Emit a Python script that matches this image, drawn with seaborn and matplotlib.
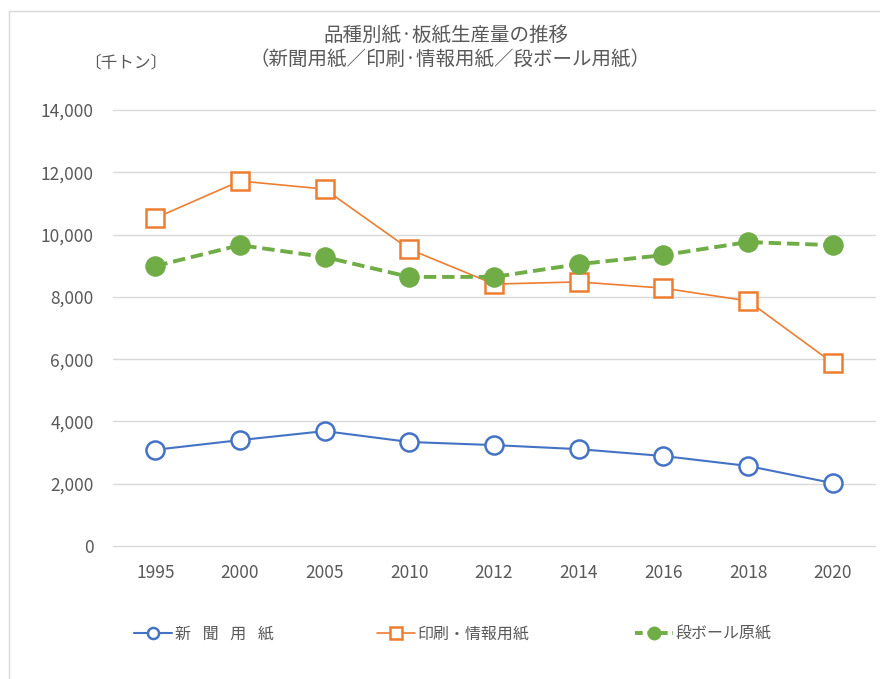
import matplotlib
matplotlib.use("Agg")
import matplotlib.pyplot as plt
import seaborn as sns
import pandas as pd
from matplotlib.lines import Line2D
from matplotlib.ticker import FuncFormatter

years = ["1995", "2000", "2005", "2010", "2012", "2014", "2016", "2018", "2020"]
newsprint = [3090, 3400, 3690, 3340, 3240, 3110, 2890, 2570, 2020]
printing = [10530, 11720, 11460, 9530, 8410, 8480, 8280, 7870, 5880]
corrugated = [8990, 9660, 9280, 8640, 8640, 9050, 9340, 9760, 9660]
series_names = ["新\u2002 聞\u2002 用\u2002 紙", "印刷・情報用紙", "段ボール原紙"]

sns.set_theme(style="white")
plt.rcParams['font.family'] = ['Noto Sans CJK JP', 'DejaVu Sans']

TXT = "#595959"
BLUE, ORANGE, GREEN = "#4472C4", "#ED7D31", "#70AD47"
fig = plt.figure(figsize=(8.8, 6.79), dpi=100)
W, H = 880, 679
ax = fig.add_axes([113 / W, 1 - 546 / H, (875 - 113) / W, (546 - 110) / H])

df = pd.DataFrame({"year": years, "news": newsprint, "print": printing, "corr": corrugated})
x = list(range(len(years)))

sns.lineplot(x=x, y=df["news"], ax=ax, color=BLUE, linewidth=1.5,
             marker="o", markersize=13, markerfacecolor="white",
             markeredgecolor=BLUE, markeredgewidth=1.8, zorder=3)
sns.lineplot(x=x, y=df["print"], ax=ax, color=ORANGE, linewidth=1.2,
             marker="s", markersize=13, markerfacecolor="white",
             markeredgecolor=ORANGE, markeredgewidth=1.8, zorder=3)
sns.lineplot(x=x, y=df["corr"], ax=ax, color=GREEN, linewidth=2.8,
             linestyle=(0, (3.2, 1.5)), marker="o", markersize=14,
             markerfacecolor=GREEN, markeredgecolor=GREEN, zorder=3)

ax.set_xlim(-0.5, len(years) - 0.5)
ax.set_ylim(0, 14000)
ax.set_yticks(range(0, 14001, 2000))
ax.yaxis.set_major_formatter(FuncFormatter(lambda v, p: f"{int(v):,}"))
ax.set_xticks(x)
ax.set_xticklabels(years)
ax.grid(axis="y", color="#D9D9D9", linewidth=1.0)
ax.grid(axis="x", visible=False)
for gl in ax.get_ygridlines():
    gl.set_clip_on(False)
for s in ax.spines.values():
    s.set_visible(False)
ax.tick_params(axis="both", length=0, colors=TXT, labelsize=12.5)
ax.tick_params(axis="y", pad=14)
ax.tick_params(axis="x", pad=13)
ax.set_xlabel("")
ax.set_ylabel("")

fig.text(446 / W, 1 - 35 / H, "品種別紙·板紙生産量の推移", ha="center", va="center",
         fontsize=14, color=TXT)
fig.text(450 / W, 1 - 59 / H, "（新聞用紙／印刷·情報用紙／段ボール用紙）", ha="center", va="center",
         fontsize=14, color=TXT)
fig.text(126 / W, 1 - 63 / H, "〔千トン〕", ha="center", va="center", fontsize=12, color=TXT)

handles = [
    Line2D([], [], color=BLUE, linewidth=1.5, marker="o", markersize=8,
           markerfacecolor="white", markeredgecolor=BLUE, markeredgewidth=1.8),
    Line2D([], [], color=ORANGE, linewidth=1.2, marker="s", markersize=8,
           markerfacecolor="white", markeredgecolor=ORANGE, markeredgewidth=1.8),
    Line2D([], [], color=GREEN, linewidth=2.8, linestyle=(0, (2.0, 1.2)), marker="o",
           markersize=9, markerfacecolor=GREEN, markeredgecolor=GREEN),
]
starts = [134, 377, 635]
for h, name, sx in zip(handles, series_names, starts):
    lg = fig.legend([h], [name], loc="center left", bbox_to_anchor=(sx / W, 1 - 634 / H),
                    frameon=False, fontsize=11.5, handlelength=2.4, handletextpad=0.15,
                    borderpad=0, borderaxespad=0, labelcolor=TXT)

# outer border
fig.add_artist(Line2D([9 / W, 9 / W], [1 - 11 / H, 0], color="#D9D9D9", linewidth=1.0,
                      transform=fig.transFigure))
fig.add_artist(Line2D([9 / W, 1], [1 - 11 / H, 1 - 11 / H], color="#D9D9D9", linewidth=1.0,
                      transform=fig.transFigure))

fig.savefig("out.png", dpi=100)
